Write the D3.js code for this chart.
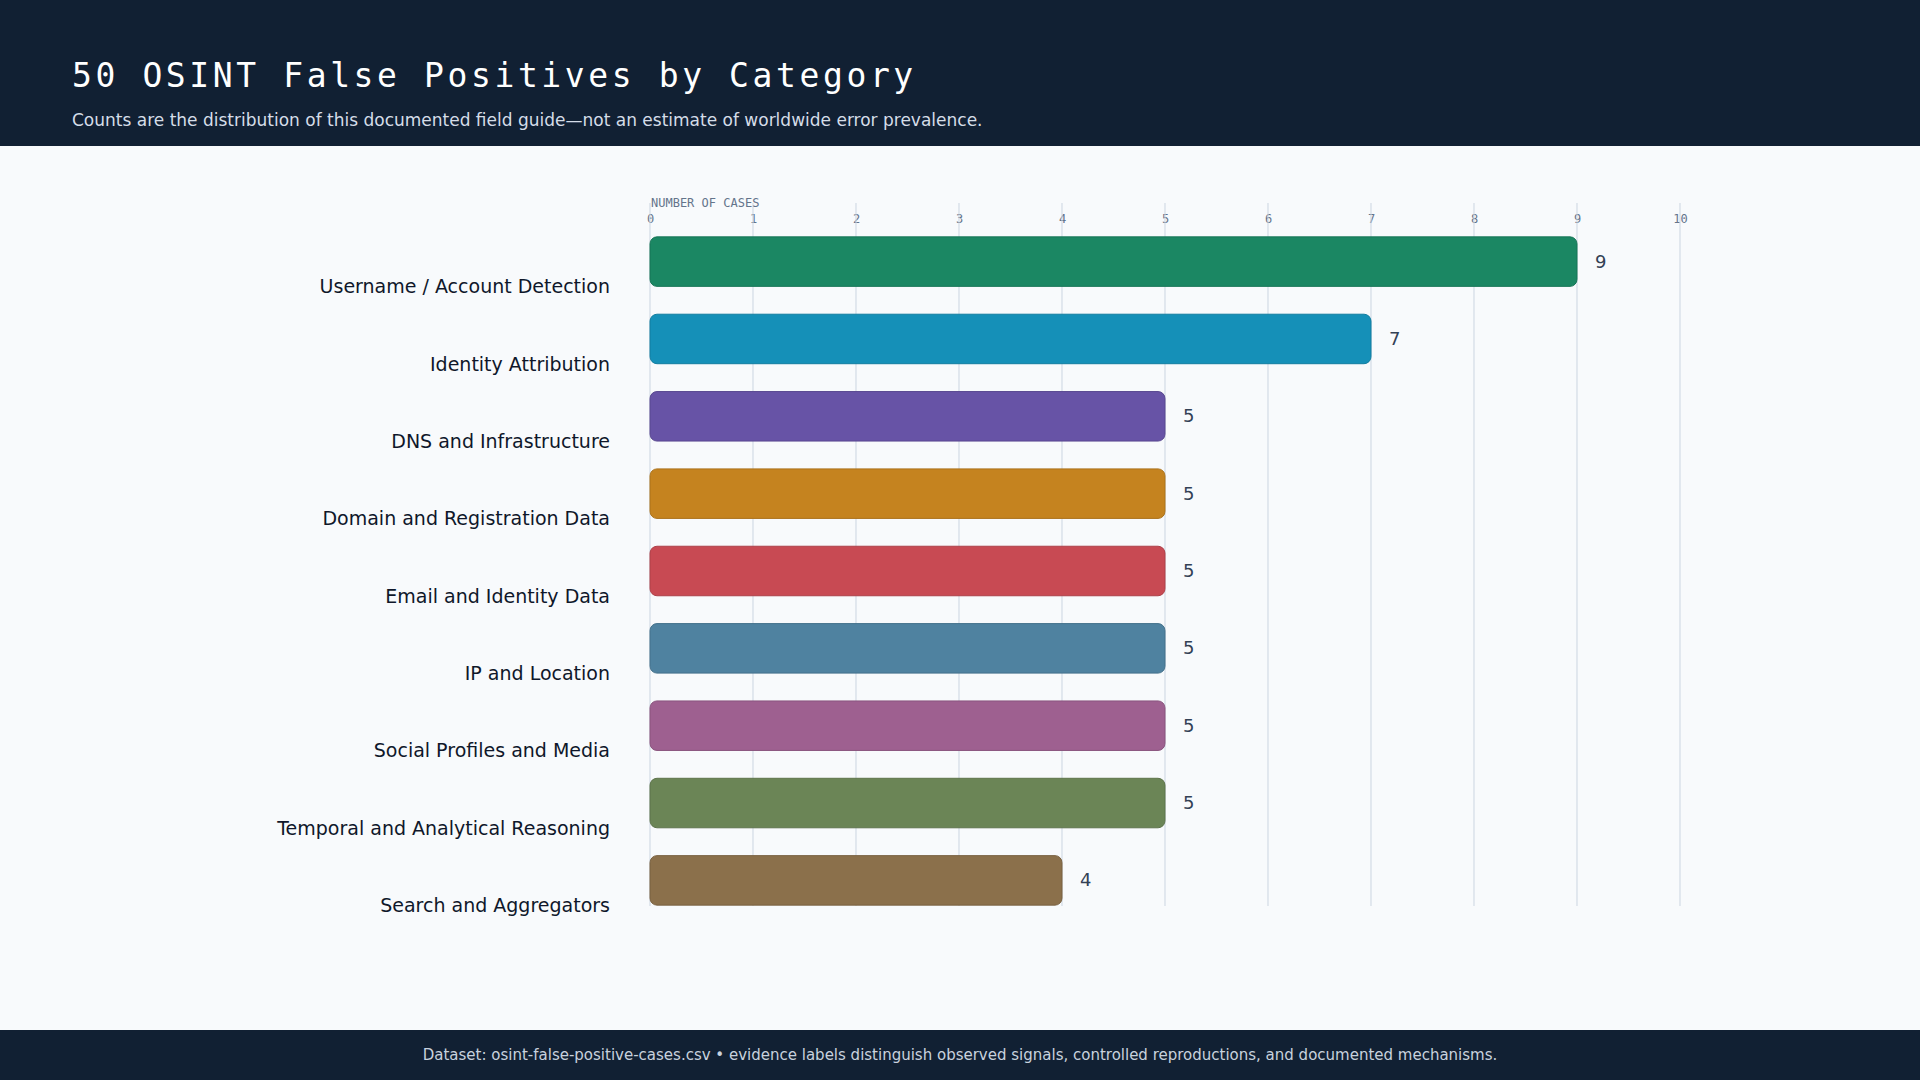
<!DOCTYPE html>
<html>
<head>
<meta charset="utf-8">
<script src="https://cdn.jsdelivr.net/npm/d3@7"></script>
<style>
  body { margin: 0; background: #f8fafc; }
  svg { display: block; }
</style>
</head>
<body>
<script>
// 数据
const categories = [
  'Username / Account Detection',
  'Identity Attribution',
  'DNS and Infrastructure',
  'Domain and Registration Data',
  'Email and Identity Data',
  'IP and Location',
  'Social Profiles and Media',
  'Temporal and Analytical Reasoning',
  'Search and Aggregators'
];
const counts = [9, 7, 5, 5, 5, 5, 5, 5, 4];
const colors = ['#1b8763', '#1590b8', '#6753a6', '#c5831f', '#c84a53', '#4f82a0', '#9e6090', '#6b8556', '#8b704b'];
const xTicks = [0, 1, 2, 3, 4, 5, 6, 7, 8, 9, 10];

const width = 1920, height = 1080;
const margin = { top: 234, left: 650, right: 240, bottom: 174 };

const svg = d3.select('body').append('svg')
  .attr('width', width)
  .attr('height', height);

svg.append('rect').attr('width', width).attr('height', height).attr('fill', '#f8fafc');

// 头部
svg.append('rect').attr('width', width).attr('height', 146).attr('fill', '#112033');
svg.append('text')
  .attr('x', 72).attr('y', 87)
  .attr('font-family', 'DejaVu Sans Mono')
  .attr('font-size', 33)
  .attr('letter-spacing', 3.6)
  .attr('fill', '#ffffff')
  .text('50 OSINT False Positives by Category');
svg.append('text')
  .attr('x', 72).attr('y', 126)
  .attr('font-family', 'DejaVu Sans')
  .attr('font-size', 17)
  .attr('fill', '#d5dde8')
  .text('Counts are the distribution of this documented field guide\u2014not an estimate of worldwide error prevalence.');

// 底部
svg.append('rect').attr('y', 1030).attr('width', width).attr('height', 50).attr('fill', '#112033');
svg.append('text')
  .attr('x', width / 2).attr('y', 1060)
  .attr('text-anchor', 'middle')
  .attr('font-family', 'DejaVu Sans')
  .attr('font-size', 15)
  .attr('fill', '#c8d2de')
  .text('Dataset: osint-false-positive-cases.csv \u2022 evidence labels distinguish observed signals, controlled reproductions, and documented mechanisms.');

const x = d3.scaleLinear().domain([0, 10]).range([650, 1680]);
const y = d3.scaleBand().domain(categories).range([233, 909]).paddingInner(0.36).paddingOuter(0.05);

// 网格与刻度
const xAxis = g => g
  .attr('transform', 'translate(0,212)')
  .call(d3.axisTop(x).tickValues(xTicks).tickSize(0).tickPadding(0))
  .call(g => g.select('.domain').remove())
  .call(g => g.selectAll('text')
    .attr('font-family', 'DejaVu Sans Mono')
    .attr('font-size', 12)
    .attr('fill', '#64748b')
    .attr('dy', '0.9em'));
svg.append('g').call(xAxis);

svg.append('g').selectAll('line')
  .data(xTicks)
  .enter().append('line')
  .attr('x1', d => x(d)).attr('x2', d => x(d))
  .attr('y1', 203).attr('y2', 906)
  .attr('stroke', '#cbd5e1')
  .attr('stroke-width', 1);

svg.append('text')
  .attr('x', 651).attr('y', 207)
  .attr('font-family', 'DejaVu Sans Mono')
  .attr('font-size', 12)
  .attr('fill', '#64748b')
  .text('NUMBER OF CASES');

// 条形
const rows = svg.append('g').selectAll('g')
  .data(categories)
  .enter().append('g');

rows.append('rect')
  .attr('x', x(0))
  .attr('y', d => y(d))
  .attr('width', (d, i) => x(counts[i]) - x(0))
  .attr('height', y.bandwidth())
  .attr('rx', 7)
  .attr('fill', (d, i) => colors[i])
  .attr('stroke', (d, i) => d3.color(colors[i]).darker(0.4))
  .attr('stroke-width', 1);

rows.append('text')
  .attr('x', (d, i) => x(counts[i]) + 18)
  .attr('y', d => y(d) + y.bandwidth() / 2 + 6)
  .attr('font-family', 'DejaVu Sans')
  .attr('font-size', 18)
  .attr('fill', '#334155')
  .text((d, i) => counts[i]);

rows.append('text')
  .attr('x', 610)
  .attr('y', d => y(d) + y.bandwidth() + 7)
  .attr('text-anchor', 'end')
  .attr('font-family', 'DejaVu Sans')
  .attr('font-size', 19)
  .attr('fill', '#0f172a')
  .text(d => d);
</script>
</body>
</html>
